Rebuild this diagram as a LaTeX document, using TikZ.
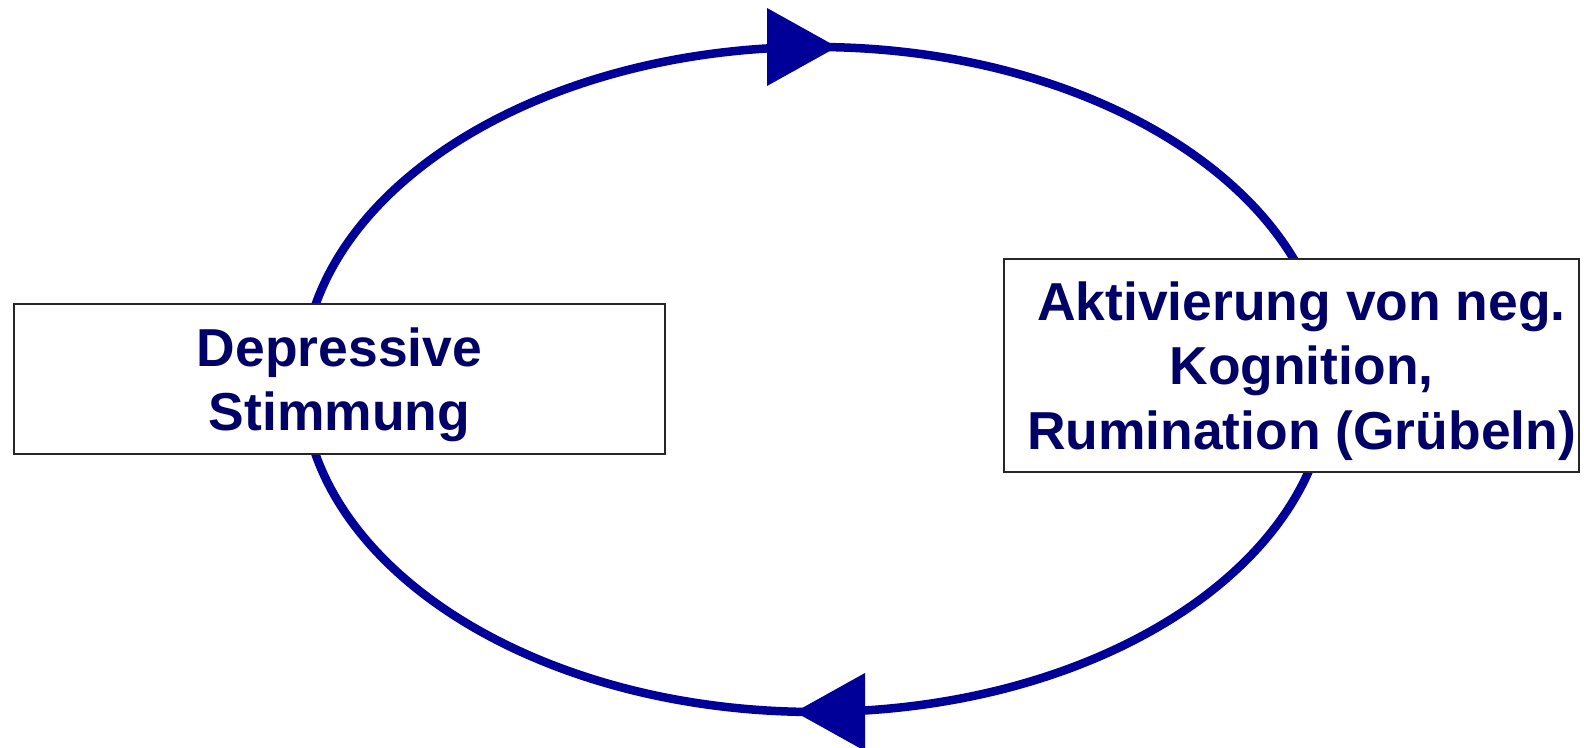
\documentclass[tikz,border=0pt]{standalone}
\usepackage{fontspec}
\setmainfont{Liberation Sans}
\usetikzlibrary{positioning}
\definecolor{loopblue}{HTML}{000099}
\definecolor{textnavy}{HTML}{000066}
\newcommand{\topstrut}{\rule{0pt}{0.50cm}}
\newcommand{\nudge}{\hspace*{0.2cm}}
\begin{document}
\begin{tikzpicture}
        [
            box/.style={rectangle, draw=black!85, line width=0.6pt, fill=white, text=textnavy, align=center, inner sep=0pt, font=\fontsize{15.2}{18.3}\selectfont\bfseries},
            loop/.style={draw=loopblue, line width=0.085cm},
            tip/.style={fill=loopblue}
        ]
        \useasboundingbox (0,0) rectangle (15.84,7.48);
        % Kreislauf
        \coordinate (mid) at (8.155,3.685);
        \draw[loop] (mid) ellipse [x radius=5.13, y radius=3.325];
        \coordinate (toptip) at (8.37,7.01);
        \coordinate (bottip) at (7.95,0.36);
        \fill[tip] (toptip) -- ++(-0.7,0.39) -- ++(0,-0.78) -- cycle;
        \fill[tip] (bottip) -- ++(0.7,0.39) -- ++(0,-0.78) -- cycle;
        % Stimmung
        \node[box, minimum width=6.51cm, minimum height=1.50cm] (mood) at (3.395,3.69) {\topstrut Depressive\\Stimmung};
        % Kognition
        \node[box, minimum width=5.75cm, minimum height=2.13cm] (rumi) at (12.915,3.825) {\topstrut\nudge Aktivierung von neg.\\\nudge Kognition,\\\nudge Rumination (Grübeln)};
    \end{tikzpicture}
\end{document}
